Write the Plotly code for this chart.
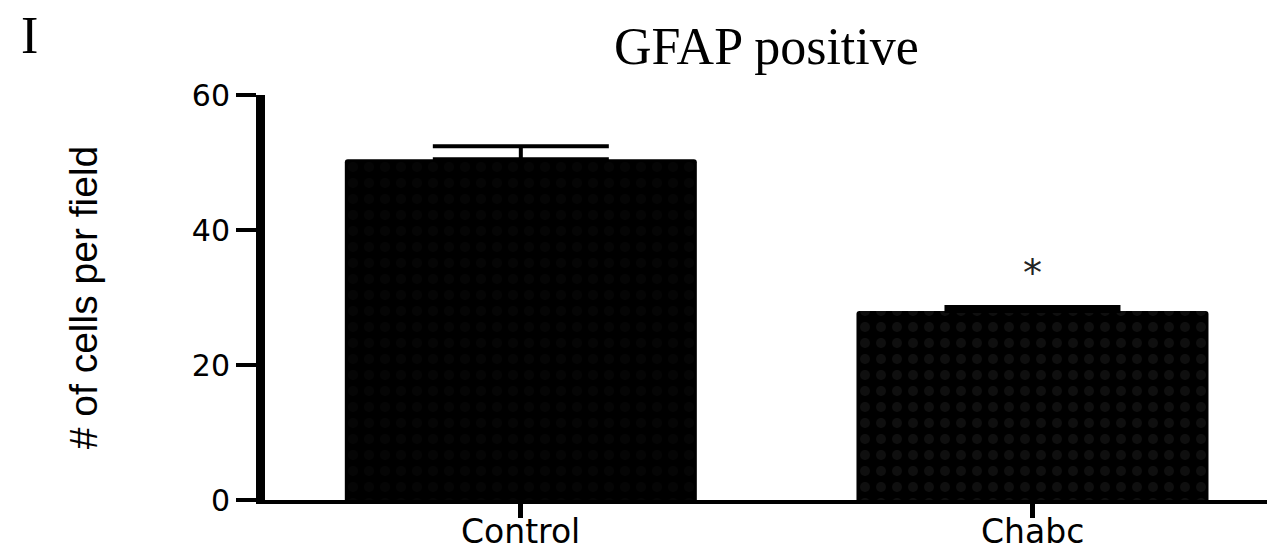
import plotly.graph_objects as go

categories = ["Control", "Chabc"]
means = [50.5, 28.0]
err_plus = [1.9, 0.6]
sig_labels = ["", "*"]
y_ticks = [0, 20, 40, 60]

OFF = 8  # page body margin in the browser
W, H = 1275, 553
L, T, B, R = 265 - OFF, 95 - OFF, 553 - (500 - OFF), OFF
PW, PH = W - L - R, H - T - B

def px_x(p):
    return (p - OFF - L) / PW

def px_y(p):
    return (H - B - (p - OFF)) / PH

fig = go.Figure()
fig.add_trace(go.Bar(
    x=[0, 1], y=means, width=0.688,
    marker=dict(color="#000000", line=dict(width=0),
                pattern=dict(shape=".", fgcolor=["#0a0a0a", "#1e1e1e"], bgcolor="#000000",
                             size=16, solidity=0.3)),
    error_y=dict(type="data", symmetric=False, array=err_plus, arrayminus=[0, 0],
                 color="#000000", thickness=4, width=88),
))

for i, lab in enumerate(sig_labels):
    if lab:
        fig.add_annotation(x=i, y=means[i] + err_plus[i] + 5.0, text=lab, showarrow=False,
                           font=dict(family="DejaVu Sans", size=38, color="#222"),
                           xanchor="center", yanchor="middle")

for i, cat in enumerate(categories):
    fig.add_annotation(x=i, yref="paper", y=px_y(552), text=cat, showarrow=False,
                       font=dict(family="DejaVu Sans", size=33, color="#000"),
                       xanchor="center", yanchor="bottom", borderpad=0)

fig.add_annotation(xref="paper", yref="paper", x=px_x(766), y=px_y(46), xanchor="center", yanchor="middle",
                   text="GFAP positive", showarrow=False,
                   font=dict(family="Liberation Serif", size=52, color="#000"))
fig.add_annotation(xref="paper", yref="paper", x=px_x(29), y=px_y(36), xanchor="center", yanchor="middle",
                   text="I", showarrow=False,
                   font=dict(family="Liberation Serif", size=52, color="#000"))

fig.update_layout(
    width=W, height=H,
    margin=dict(l=L, r=R, t=T, b=B),
    paper_bgcolor="white", plot_bgcolor="white",
    showlegend=False, barcornerradius=3,
)
fig.update_xaxes(
    range=[-0.5, 1.474], tickvals=[0, 1], ticktext=["", ""], automargin=False,
    showline=True, linecolor="#000", linewidth=4,
    ticks="outside", ticklen=14, tickwidth=5, tickcolor="#000",
    showgrid=False, zeroline=False,
)
fig.update_yaxes(
    range=[0, 60], tickvals=y_ticks, automargin=False,
    showline=True, linecolor="#000", linewidth=9,
    ticks="outside", ticklen=20, tickwidth=4, tickcolor="#000",
    tickfont=dict(family="DejaVu Sans", size=30, color="#000"),
    showgrid=False, zeroline=False,
    title=dict(text="# of cells per field", font=dict(family="Liberation Sans", size=39, color="#000"), standoff=86),
)

fig.write_html("out.html")
